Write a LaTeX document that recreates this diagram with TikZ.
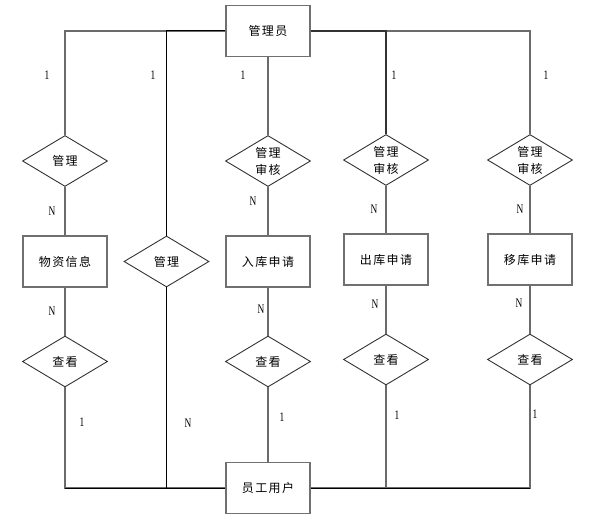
\documentclass[tikz,border=0pt]{standalone}
\usepackage{fontspec}
\usepackage{tikz}
\usetikzlibrary{shapes.geometric}
\usetikzlibrary{positioning}
\newfontfamily\cjk[LetterSpace=12]{Noto Sans CJK SC}
\newfontfamily\numfont[FakeStretch=0.72]{Liberation Serif}
\definecolor{linegray}{HTML}{6B6B6B}
\definecolor{boxgray}{HTML}{707070}
\definecolor{dark}{HTML}{333333}

\begin{document}
\begin{tikzpicture}[x=1pt,y=-1pt,
    entity node/.style={rectangle,draw=boxgray,line width=1.6pt,minimum width=84pt,minimum height=51pt,inner sep=0pt,font=\cjk\fontsize{12}{17}\selectfont},
    rel node/.style={diamond,draw=dark,line width=0.9pt,minimum width=85pt,minimum height=51pt,aspect=1.67,inner sep=0pt,align=center,font=\cjk\fontsize{12}{17}\selectfont},
    num node/.style={inner sep=0pt,font=\numfont\fontsize{13}{13}\selectfont},
    gray line/.style={draw=linegray,line width=1.3pt},
    dark line/.style={draw=black,line width=1pt}]
   
   \useasboundingbox (0,0) rectangle (607,526);
   
   % entities
   \node[entity node] (admin) at (268,31) {管理员};
   \node[entity node] (wz) at (65,261.5) {物资信息};
   \node[entity node] (rk) at (268,261.5) {入库申请};
   \node[entity node] (ck) at (386,259.5) {出库申请};
   \node[entity node] (yk) at (530,259.5) {移库申请};
   \node[entity node] (user) at (268,488) {员工用户};
   
   % relations
   \node[rel node] (wzgl) at (65,161) {管理};
   \node[rel node] (rksh) at (268,161) {管理\\审核};
   \node[rel node] (cksh) at (386,160) {管理\\审核};
   \node[rel node] (yksh) at (530,160) {管理\\审核};
   \node[rel node] (yggl) at (166.5,261.5) {管理};
   \node[rel node] (wzck) at (65,361.5) {查看};
   \node[rel node] (rkck) at (268,361.5) {查看};
   \node[rel node] (ckck) at (386,359.5) {查看};
   \node[rel node] (ykck) at (530,359.5) {查看};
   
   % admin side
   \draw[gray line] (admin.west) -| (wzgl.north);
   \draw[gray line] (admin.east) -| (yksh.north);
   \draw[dark line] (admin.west) -| (yggl.north);
   \draw[dark line,draw=dark,line width=1.3pt] (admin.east) -| (cksh.north);
   \draw[gray line] (admin.south) -- (rksh.north);
   
   \draw[gray line] (wzgl.south) -- (wz.north);
   \draw[gray line] (rksh.south) -- (rk.north);
   \draw[gray line] (cksh.south) -- (ck.north);
   \draw[gray line] (yksh.south) -- (yk.north);
   
   \draw[gray line] (wz.south) -- (wzck.north);
   \draw[gray line] (rk.south) -- (rkck.north);
   \draw[gray line] (ck.south) -- (ckck.north);
   \draw[gray line] (yk.south) -- (ykck.north);
   
   % user side
   \draw[gray line] (wzck.south) |- (user.west);
   \draw[gray line] (ykck.south) |- (user.east);
   \draw[gray line] (ckck.south) |- (user.east);
   \draw[gray line] (rkck.south) -- (user.north);
   \draw[dark line] (yggl.south) |- (user.west);
   \draw[dark line] (user.west) -- (wzck.south |- user.west);
   \draw[dark line] (user.east) -- (ykck.south |- user.east);
   
   % cardinalities
   \node[num node] (n1) at (47,75) {1};
   \node[num node] (n2) at (153,75) {1};
   \node[num node] (n3) at (243,75) {1};
   \node[num node] (n4) at (394,75) {1};
   \node[num node] (n5) at (546,75) {1};
   \node[num node] (n6) at (52,211) {N};
   \node[num node] (n7) at (253,201) {N};
   \node[num node] (n8) at (374,209) {N};
   \node[num node] (n9) at (520,209) {N};
   \node[num node] (n10) at (52,311) {N};
   \node[num node] (n11) at (261,309) {N};
   \node[num node] (n12) at (375,304) {N};
   \node[num node] (n13) at (519,303) {N};
   \node[num node] (n14) at (82,422) {1};
   \node[num node] (n15) at (188,423) {N};
   \node[num node] (n16) at (282,417) {1};
   \node[num node] (n17) at (397,415) {1};
   \node[num node] (n18) at (535,414) {1};
  \end{tikzpicture}
\end{document}
